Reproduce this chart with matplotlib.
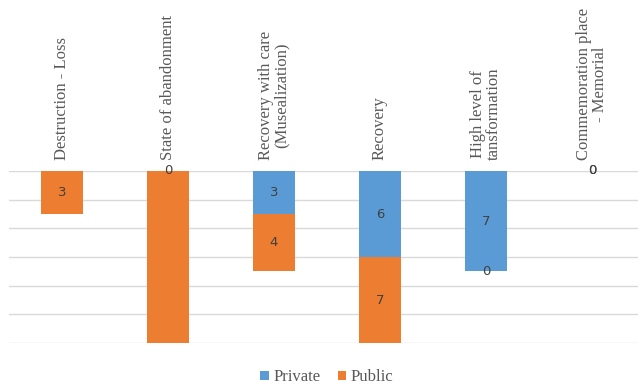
import numpy as np
import matplotlib.pyplot as plt

categories = ["Destruction - Loss", "State of abandonment",
              "Recovery with care\n(Musealization)", "Recovery",
              "High level of\ntansformation", "Commemoration place\n- Memorial"]
private = [0, 0, 3, 6, 7, 0]
public = [3, 14, 4, 7, 0, 0]
# which data labels the original shows
show_private = [False, True, True, True, True, True]
show_public = [True, False, True, True, True, True]

blue = "#5B9BD5"
orange = "#ED7D31"
ymax = 12

fig = plt.figure(figsize=(6.38, 3.9), dpi=100)
ax = fig.add_axes([9 / 638, 1 - 343 / 390, 636 / 638, 172 / 390])

x = np.arange(len(categories))
ax.bar(x, private, width=0.4, color=blue, label="Private", zorder=2)
ax.bar(x, public, width=0.4, bottom=private, color=orange, label="Public", zorder=2)

ax.set_xlim(-0.5, len(categories) - 0.5)
ax.set_ylim(ymax, 0)
ax.set_yticks(np.arange(0, ymax + 1, 2))
ax.yaxis.grid(True, color="#D9D9D9", linewidth=1, zorder=0)
ax.set_xticks([])
ax.tick_params(left=False, labelleft=False)
for s in ax.spines.values():
    s.set_visible(False)

lab = dict(ha="center", va="center", fontsize=9.5, color="#404040",
           family="DejaVu Sans", zorder=3)
for i in range(len(categories)):
    p0, p1 = 0, private[i]
    q0, q1 = private[i], min(private[i] + public[i], ymax)
    if show_private[i]:
        ax.text(x[i], (p0 + p1) / 2, str(private[i]), **lab)
    if show_public[i]:
        ax.text(x[i], (q0 + q1) / 2, str(public[i]), **lab)
    ax.annotate(categories[i], (x[i], 0), xytext=(0, 8), textcoords="offset points",
                rotation=90, ha="center", va="bottom", multialignment="center",
                fontsize=12, color="#595959", family="Liberation Serif",
                linespacing=1.0, annotation_clip=False)

ax.legend(loc="center", bbox_to_anchor=(0.5, -0.2), ncol=2, frameon=False,
          handlelength=0.5, handleheight=0.5, handletextpad=0.3, columnspacing=1.0,
          prop={"family": "Liberation Serif", "size": 12}, labelcolor="#595959")

fig.savefig("out.png", dpi=100)
